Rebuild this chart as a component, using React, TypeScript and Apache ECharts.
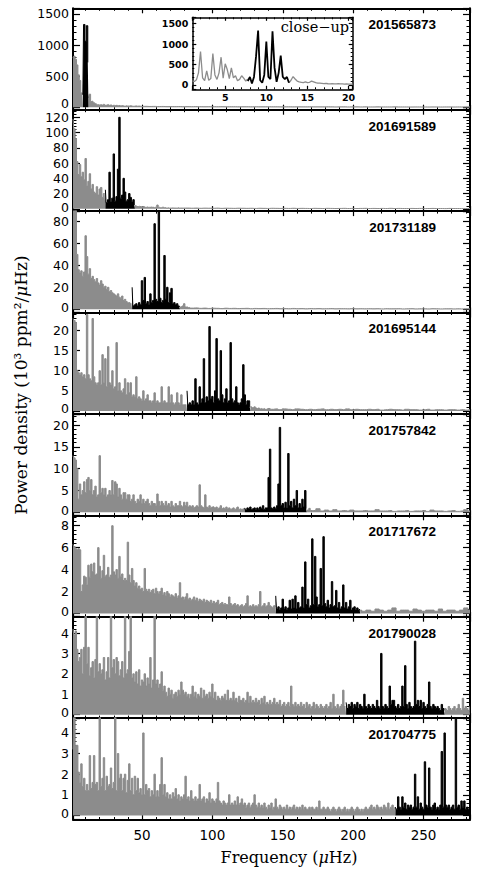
import React, { useEffect, useRef } from "react";
import * as echarts from "echarts";

// ---------------- data ----------------
const STAR_IDS = ["201565873", "201691589", "201731189", "201695144", "201757842", "201717672", "201790028", "201704775"];
const FREQ_MIN = 1;
const FREQ_MAX = 283;
const BIN = 1; // µHz, main spectra bin width
const TAIL_BIN = 3; // µHz, bin width of the flat high-frequency tails
const X_TITLE = "Frequency (";
const Y_TITLE = "Power density (10³ ppm²/";
const INSET_LABEL = "close−up";

// Panel 1 — 201565873
const p1GrayLo = [790, 820, 770, 680, 520, 430, 230, 200];
const p1BlackStart = 8;
const p1Black = [200, 1330, 1060, 1310, 720];
const p1GrayHi = [150, 210, 90, 100, 70, 55, 45, 40, 35,
  40, 35, 45, 30, 35, 40, 30, 35, 25, 30,
  25, 30, 22, 28, 20, 25, 22, 18, 25, 20,
  18, 22, 20, 15, 18, 20, 15, 18, 15, 12];
const p1TailStart = 52;
const p1Tail = [14, 12, 13, 11, 12, 10, 11, 10, 11, 9,
  10, 9, 10, 9, 8, 9, 9, 8, 9, 8,
  8, 8, 7, 8, 8, 7, 8, 7, 7, 8,
  7, 7, 6, 7, 7, 6, 7, 6, 6, 7,
  6, 6, 6, 7, 6, 5, 6, 6, 5, 6,
  6, 5, 6, 5, 5, 6, 5, 5, 5, 6,
  5, 5, 5, 4, 5, 5, 5, 4, 5, 5,
  4, 5, 5, 4, 5, 4, 5, 4];

// Panel 2 — 201691589
const p2GrayLo = [118, 105, 92, 62, 45, 58, 42, 48, 38, 66,
  30, 36, 46, 26, 32, 22, 20, 29, 18, 26,
  28, 15, 20, 20];
const p2BlackStart = 24;
const p2Black = [25, 8, 12, 48, 9, 14, 72, 10, 16, 52, 120, 14, 18, 40, 22, 10, 12, 20, 15, 9, 12, 5];
const p2GrayHi = [4, 4, 3, 3.5, 3, 2.5,
  3, 2.5, 2, 2.5, 2, 2, 2.5, 2, 1.5, 2,
  5, 2, 1.5, 1.5, 2, 1.5, 1.5, 1, 1.5, 1,
  1, 1.5, 1, 1, 1, 1.5, 1, 1, 1, 1];
const p2TailStart = 82;
const p2Tail = [1, 0.8, 1, 0.7, 0.9, 0.8, 0.7, 0.9, 0.6, 0.8,
  0.7, 0.6, 0.8, 0.7, 0.6, 0.7, 0.5, 0.7, 0.6, 0.5,
  0.7, 0.6, 0.5, 0.6, 0.5, 0.7, 0.5, 0.6, 0.5, 0.4,
  0.6, 0.5, 0.4, 0.6, 0.5, 0.4, 0.5, 0.6, 0.4, 0.5,
  0.4, 0.5, 0.6, 0.4, 0.5, 0.4, 0.5, 0.4, 0.6, 0.4,
  0.5, 0.4, 0.4, 0.5, 0.4, 0.5, 0.3, 0.4, 0.5, 0.4,
  0.4, 0.3, 0.5, 0.4, 0.4, 0.3, 0.4, 0.4];

// Panel 3 — 201731189
const p3GrayLo = [95, 92, 90, 50, 36, 33, 35, 30, 34, 67,
  48, 32, 37, 28, 30, 27, 25, 28, 24, 22,
  26, 23, 20, 21, 18, 20, 16, 17, 15, 14,
  13, 12, 14, 11, 10, 12, 8, 9, 7, 6,
  6, 5, 5];
const p3BlackStart = 43;
const p3Black = [20, 3, 4, 5, 3, 6, 4, 26, 8, 29,
  5, 7, 4, 14, 6, 8, 78, 9, 7, 90,
  10, 6, 8, 49, 9, 20, 6, 15, 19, 5,
  6, 4, 5, 3, 2];
const p3GrayHi = [2, 2, 3, 5, 2, 2, 1.5, 1.5, 1];
const p3TailStart = 88;
const p3Tail = [1.2, 0.8, 1, 0.7, 0.9, 0.8, 0.6, 0.9, 0.7, 0.8,
  0.6, 0.7, 0.8, 0.5, 0.7, 0.6, 0.7, 0.5, 0.6, 0.7,
  0.5, 0.6, 0.5, 0.7, 0.5, 0.6, 0.4, 0.6, 0.5, 0.6,
  0.4, 0.5, 0.6, 0.4, 0.5, 0.5, 0.4, 0.6, 0.4, 0.5,
  0.4, 0.5, 0.4, 0.5, 0.3, 0.5, 0.4, 0.4, 0.5, 0.3,
  0.4, 0.5, 0.3, 0.4, 0.4, 0.3, 0.5, 0.4, 0.3, 0.4,
  0.4, 0.3, 0.4, 0.3, 0.4, 0.3];

// Panel 4 — 201695144
const p4GrayLo = [23, 22.5, 22, 10, 9.5, 9, 9.5, 8.5, 9, 8,
  24, 9, 8, 7.5, 23, 8.5, 7, 6.5, 7, 10,
  6.5, 14, 7, 13, 6, 16, 7, 6.5, 10, 5.5,
  6, 17, 5, 7, 5, 4.5, 5.5, 8, 4, 7,
  4.5, 7, 3.5, 4, 3.5, 8.5, 3, 3.5, 3, 2.5,
  5, 2.5, 3, 4, 2.5, 2.5, 2, 2.5, 4.5, 2,
  2.5, 2, 2, 6, 2, 2.5, 2, 2, 6, 2,
  4, 2, 1.5, 2, 4.5, 2, 1.5, 4, 1.5, 1.5,
  1.5, 1.5];
const p4BlackStart = 82;
const p4Black = [5, 1.5, 2, 1.5, 2.5, 1.5, 8, 2, 1.5, 6,
  2, 3, 13, 2, 3.5, 2.5, 21, 3, 3.6, 2,
  5, 18, 3, 2.5, 15, 4, 2, 3, 5.5, 2,
  2.5, 17, 3, 2, 2.5, 6, 2, 1.5, 2, 3,
  11.5, 4, 1.5, 2.5, 2.5, 1];
const p4GrayHi = [1, 1, 0.8, 1, 0.7, 0.6, 0.7, 0.5, 0.6, 0.5, 0.6, 0.4, 0.5, 0.6];
const p4TailStart = 142;
const p4Tail = [0.4, 0.5, 0.3, 0.5, 0.4, 0.3, 0.5, 0.4, 0.3, 0.4,
  0.3, 0.4, 0.5, 0.3, 0.4, 0.3, 0.4, 0.3, 0.5, 0.3,
  0.4, 0.3, 0.3, 0.4, 0.3, 0.4, 0.2, 0.3, 0.4, 0.3,
  0.3, 0.2, 0.4, 0.3, 0.3, 0.2, 0.3, 0.4, 0.2, 0.3,
  0.3, 0.2, 0.3, 0.3, 0.2, 0.3, 0.2, 0.3];

// Panel 5 — 201757842
const p5GrayLo = [13, 12.5, 12, 10, 3, 6.5, 4, 5, 7, 4.5,
  7.5, 8, 5, 7.5, 4, 5, 6, 3.5, 4, 13,
  4.5, 5.5, 4, 5.5, 3.5, 4, 5, 4, 7.3, 4,
  7, 6.5, 3.5, 5.5, 4, 3, 4.5, 4.5, 3, 4,
  4, 2.5, 3, 4, 2.5, 2, 3, 2.5, 4, 2,
  3, 2, 2.5, 3, 2, 1.5, 2.5, 2, 2, 1.5,
  4.2, 2.5, 1.5, 2.5, 2, 1.5, 2.5, 1.5, 2, 1.2,
  2.5, 1.5, 1.2, 2, 1.5, 1.5, 2.5, 1.5, 1.2, 2.3,
  1.5, 2.3, 1.2, 1.5, 1.2, 1.5, 1, 1.2, 1.5, 1.2,
  6.3, 1.5, 1.2, 1, 4, 1.2, 1, 1.5, 1, 1.2,
  1.3, 1, 1.2, 0.8, 1, 1.5, 0.8, 1, 0.8, 1.2,
  0.8, 1, 0.7, 0.8, 1, 0.7, 0.8, 1.2, 0.7, 0.8,
  0.7, 0.8, 0.8];
const p5BlackStart = 123;
const p5Black = [1, 0.5, 1, 0.8, 1.2, 0.6, 0.8, 1, 0.5, 1,
  0.7, 1.2, 0.8, 1.5, 0.6, 1, 1, 8, 14.5, 1,
  0.8, 1.2, 0.8, 1.5, 6.5, 19.5, 1.5, 2, 1, 2.3,
  1, 13.5, 1.5, 2.5, 1, 3, 1.5, 5, 1, 2,
  1, 3, 1.2, 5, 0.8];
const p5GrayHi = [0.6, 0.5, 0.9, 0.4];
const p5TailStart = 172;
const p5Tail = [0.4, 0.8, 0.3, 0.5, 0.3, 0.6, 0.3, 0.4, 0.3, 0.5,
  0.3, 0.3, 0.4, 0.3, 0.3, 0.6, 0.3, 0.3, 0.4, 0.2,
  0.3, 0.3, 0.4, 0.2, 0.3, 0.3, 0.4, 0.2, 0.5, 0.3,
  0.3, 0.2, 0.3, 0.4, 0.2, 0.3, 0.6, 0.3];

// Panel 6 — 201717672
const p6GrayLo = [6.3, 6.1, 5.9, 5.8, 5.9, 5.8, 2, 2.6, 3.4, 3.3,
  2.6, 4.4, 3.3, 4.5, 3.8, 4.6, 3.5, 3.6, 6.0, 4.3,
  3.2, 3.9, 5.3, 3.4, 3.5, 4.2, 3.3, 3.5, 8.0, 3.8,
  3.5, 4.0, 3.2, 5.2, 3.4, 3.6, 3.0, 3.2, 3.0, 6.5,
  3.5, 2.8, 4.1, 3.0, 2.5, 2.8, 2.3, 2.5, 2.2, 2.3,
  2.0, 4.1, 2.2, 2.0, 2.2, 1.9, 2.1, 2.2, 1.8, 2.3,
  2.0, 1.8, 2.0, 2.3, 1.7, 1.9, 1.6, 2.0, 1.8, 1.5,
  1.7, 1.6, 1.5, 1.8, 1.4, 1.6, 2.8, 1.4, 1.5, 1.3,
  1.5, 1.8, 1.3, 1.4, 1.2, 1.3, 1.5, 1.2, 1.4, 1.1,
  1.3, 1.2, 1.1, 1.3, 1.0, 1.2, 1.1, 1.0, 1.2, 0.9,
  1.1, 0.9, 1.0, 1.2, 0.8, 0.9, 1.0, 0.8, 0.9, 0.8,
  0.8, 1.5, 0.9, 0.7, 0.8, 0.9, 0.7, 0.8, 0.6, 0.7,
  0.8, 0.6, 0.7, 0.9, 1.6, 0.6, 0.7, 0.6, 0.8, 0.6,
  0.7, 0.6, 0.8, 2.0, 0.6, 0.7, 0.9, 0.6, 0.7, 1.0,
  0.7, 0.6, 0.5, 0.7, 0.6];
const p6BlackStart = 145;
const p6Black = [1.6, 0.4, 0.6, 0.3, 0.5, 1.3, 0.4, 0.6, 0.3, 0.5,
  1.2, 0.4, 1.3, 0.5, 1.6, 0.4, 1.0, 0.5, 0.6, 2.4,
  0.5, 4.7, 0.8, 1.3, 0.5, 0.7, 6.8, 0.8, 5.2, 1.5,
  0.6, 0.8, 4.1, 0.7, 7.0, 0.9, 0.6, 1.2, 0.5, 0.8,
  2.9, 0.6, 0.7, 2.1, 0.5, 1.0, 0.4, 0.6, 2.6, 0.5,
  1.0, 0.4, 0.6, 1.2, 0.3, 0.5, 0.6, 0.3, 0.5, 0.3,
  0.4];
const p6GrayHi = [0.3, 0.3, 0.2];
const p6TailStart = 211;
const p6Tail = [0.3, 0.2, 0.4, 0.3, 0.2, 0.3, 0.5, 0.2, 0.3, 0.3,
  0.2, 0.4, 0.3, 0.2, 0.3, 0.3, 0.2, 0.4, 0.2, 0.3,
  0.3, 0.2, 0.3, 0.5, 0.3];

// Panel 7 — 201790028
const p7GrayLo = [4.2, 3.9, 4.1, 3.2, 2.6, 2.8, 3.2, 2.0, 3.3, 5.5,
  2.5, 3.3, 1.9, 2.3, 2.6, 1.8, 2.7, 5.5, 2.1, 2.5,
  2.0, 2.2, 2.8, 1.7, 2.1, 2.8, 1.8, 5.5, 2.3, 2.7,
  2.0, 2.8, 2.6, 1.9, 2.2, 2.6, 1.8, 5.5, 2.0, 2.2,
  3.1, 5.5, 1.8, 2.0, 1.6, 2.1, 1.5, 2.2, 1.4, 1.7,
  1.6, 2.0, 1.4, 1.8, 1.5, 2.8, 1.3, 1.7, 5.5, 1.5,
  1.7, 1.3, 1.5, 2.1, 1.2, 1.4, 1.1, 0.9, 1.3, 1.0,
  1.2, 0.8, 1.0, 1.1, 0.9, 1.2, 1.0, 1.6, 1.2, 1.0,
  1.1, 0.9, 1.0, 0.8, 1.0, 1.4, 0.9, 1.1, 0.8, 1.0,
  0.9, 1.3, 0.8, 1.2, 0.9, 1.0, 0.8, 1.1, 0.9, 1.5,
  0.8, 1.1, 0.7, 0.9, 0.8, 0.7, 0.9, 0.8, 1.0, 0.7,
  1.2, 0.7, 0.8, 0.7, 1.1, 0.7, 0.8, 0.6, 0.9, 0.7,
  0.7, 0.8, 0.6, 0.7, 1.1, 0.6, 0.9, 0.6, 0.7, 0.6,
  0.8, 0.6, 0.7, 0.5, 0.8, 0.6, 0.9, 0.5, 0.6, 0.5,
  0.7, 0.5, 0.6, 0.8, 0.5, 0.6, 0.5, 0.7, 0.4, 0.5,
  0.6, 0.4, 0.5, 0.6, 0.4, 1.4, 0.5, 0.4, 0.6, 0.4,
  0.5, 0.4, 0.6, 0.4, 0.5, 0.3, 0.6, 0.4, 0.5, 0.3,
  0.4, 0.6, 0.3, 0.5, 0.4, 0.3, 0.5, 0.4, 0.3, 0.4,
  0.5, 0.3, 0.4, 0.6, 0.3, 1.0, 0.4, 0.3, 0.5, 0.3,
  0.4, 0.5, 1.2, 0.4, 0.4];
const p7BlackStart = 195;
const p7Black = [0.6, 0.3, 0.5, 0.4, 0.6, 0.3, 0.5, 0.4, 0.6, 0.3,
  0.5, 0.4, 0.3, 1.0, 0.4, 0.3, 0.5, 0.4, 0.3, 0.5,
  0.4, 0.3, 0.7, 0.4, 0.3, 3.0, 0.4, 0.3, 0.5, 0.4,
  0.3, 1.4, 0.5, 0.7, 0.7, 0.4, 0.3, 0.5, 0.3, 0.4,
  1.4, 0.4, 2.4, 0.5, 0.3, 0.6, 0.4, 0.3, 0.4, 3.6,
  0.5, 0.7, 0.4, 0.7, 0.3, 0.6, 0.4, 0.3, 0.5, 1.6,
  0.4, 0.3, 0.5, 0.4, 0.3, 0.4, 0.3, 0.2, 0.5, 0.3,
  0.2];
const p7GrayHi = [0.3, 0.3, 0.2, 0.4, 0.3, 0.2,
  0.3, 0.4, 0.2, 0.3, 0.5, 0.3, 0.2, 0.8, 0.3, 0.4,
  0.3, 0.2, 0.4];
const p7TailStart = 286;
const p7Tail: number[] = [];

// Panel 8 — 201704775
const p8GrayLo = [3.2, 5.5, 3.4, 3.4, 2.1, 1.6, 2.5, 1.4, 1.8, 1.2,
  1.5, 1.2, 2.9, 1.3, 1.6, 2.9, 1.5, 1.6, 1.2, 5.5,
  1.4, 1.8, 2.8, 1.2, 1.9, 1.4, 1.5, 2.3, 1.3, 1.6,
  5.5, 1.2, 3.0, 1.8, 2.0, 1.2, 1.8, 2.0, 1.1, 1.7,
  2.5, 1.2, 1.8, 1.0, 1.9, 1.2, 1.8, 1.1, 1.3, 1.0,
  4.0, 1.0, 1.5, 1.2, 1.3, 0.9, 1.2, 1.0, 2.0, 0.9,
  1.2, 0.9, 1.5, 2.8, 1.0, 1.5, 0.9, 1.1, 0.8, 1.0,
  0.8, 1.1, 0.9, 1.3, 0.8, 1.0, 0.7, 0.9, 0.8, 1.0,
  1.9, 0.8, 0.9, 0.7, 1.2, 0.8, 0.7, 0.9, 0.7, 0.8,
  1.5, 0.7, 0.8, 0.9, 0.6, 0.8, 0.7, 1.1, 0.6, 0.8,
  0.7, 0.6, 0.8, 1.6, 0.7, 0.6, 0.5, 0.7, 0.6, 0.5,
  0.6, 1.0, 0.5, 0.6, 0.5, 0.7, 0.5, 0.9, 0.5, 0.6,
  0.8, 0.5, 0.6, 0.4, 0.5, 0.6, 0.4, 0.5, 0.6, 1.0,
  0.5, 0.4, 0.6, 0.4, 0.5, 0.4, 0.6, 0.4, 0.3, 0.5,
  0.4, 0.6, 0.3, 0.4, 0.8, 0.4, 0.3, 0.5, 0.4, 0.3,
  0.4, 0.3, 0.5, 0.3, 0.4, 0.3, 0.4, 0.5, 0.3, 0.4,
  0.3, 0.4, 0.3, 0.5, 0.3, 0.4, 0.3, 0.3, 0.4, 0.3,
  0.4, 0.3, 0.3, 0.4, 0.3, 0.7, 0.3, 0.3, 0.4, 0.3,
  0.3, 0.4, 0.3, 0.2, 0.3, 0.4, 0.3, 0.2, 0.3, 0.4,
  0.3, 0.2, 0.3, 0.4, 0.2, 0.3, 0.2, 0.3, 0.4, 0.3,
  0.2, 0.3, 0.4, 0.3, 0.2, 0.3, 0.2, 0.3, 0.4, 0.3,
  0.3, 0.4, 0.5, 0.3, 0.4, 0.3, 0.5, 0.4, 0.3, 0.4,
  0.3, 0.5, 0.4, 0.3, 0.6, 0.3, 0.4, 0.5, 0.3, 0.4];
const p8BlackStart = 230;
const p8Black = [0.4, 0.3, 0.9, 0.4, 0.3, 0.9, 0.4, 0.6, 0.3, 0.5,
  0.4, 0.5, 0.3, 0.4, 2.0, 0.4, 0.9, 0.3, 0.6, 0.4,
  0.3, 2.6, 0.5, 0.4, 2.3, 0.4, 0.3, 0.5, 0.6, 0.3,
  0.4, 0.3, 0.5, 3.1, 0.4, 4.0, 0.5, 0.4, 0.5, 0.3,
  0.4, 0.5, 0.3, 5.5, 0.4, 0.5, 0.3, 0.7, 0.4, 0.7,
  0.3, 0.4, 0.3, 0.4];
const p8GrayHi: number[] = [];
const p8TailStart = 286;
const p8Tail: number[] = [];

// Close-up inset of panel 1 (0.25 µHz bins)
const INSET_BIN = 0.25;
const insetGrayLo = [100, 90, 130, 300, 820, 180, 110, 350, 120, 160,
  770, 250, 140, 300, 680, 170, 520, 380, 160, 420,
  180, 230, 110, 140, 230, 170, 100, 150];
const insetBlackStart = 7.75;
const insetBlack = [100, 200, 40, 200, 700, 1330, 120, 60, 250, 1060,
  200, 150, 1310, 420, 80, 300, 720, 200, 150, 200, 60];
const insetGrayHi = [60, 120, 210, 150, 100, 80, 70, 60, 80, 60, 70,
  100, 80, 60, 50, 50, 45, 40, 45, 35, 30,
  35, 30, 30, 35, 30, 30, 25, 30, 25, 25, 25];

// ---------------- layout / styling ----------------
const GRID_LEFT = 73;
const GRID_W = 397;
const GRID_TOP = 8.3;
const GRID_H = 101.4;
const GRAY = "#8c8c8c";
const BLACK = "#000000";
const SANS = '"DejaVu Sans", sans-serif';
const SERIF = '"DejaVu Serif", serif';

// y range, split count and how far (px) the "0" label sits above its tick
const Y_AXES = [
  { min: -40, max: 1590, split: 3, lift: 3.8 },
  { min: -3, max: 130, split: 7, lift: 1.3 },
  { min: -3, max: 89.5, split: 4, lift: 2 },
  { min: -0.75, max: 24.5, split: 5, lift: 2 },
  { min: -0.7, max: 22.6, split: 5, lift: 2 },
  { min: -0.3, max: 8.95, split: 4, lift: 2 },
  { min: -0.17, max: 4.8, split: 5, lift: 2 },
  { min: -0.2, max: 4.72, split: 5, lift: 2 },
];

const PANELS = [
  { lo: p1GrayLo, bs: p1BlackStart, bk: p1Black, hi: p1GrayHi, ts: p1TailStart, tail: p1Tail },
  { lo: p2GrayLo, bs: p2BlackStart, bk: p2Black, hi: p2GrayHi, ts: p2TailStart, tail: p2Tail },
  { lo: p3GrayLo, bs: p3BlackStart, bk: p3Black, hi: p3GrayHi, ts: p3TailStart, tail: p3Tail },
  { lo: p4GrayLo, bs: p4BlackStart, bk: p4Black, hi: p4GrayHi, ts: p4TailStart, tail: p4Tail },
  { lo: p5GrayLo, bs: p5BlackStart, bk: p5Black, hi: p5GrayHi, ts: p5TailStart, tail: p5Tail },
  { lo: p6GrayLo, bs: p6BlackStart, bk: p6Black, hi: p6GrayHi, ts: p6TailStart, tail: p6Tail },
  { lo: p7GrayLo, bs: p7BlackStart, bk: p7Black, hi: p7GrayHi, ts: p7TailStart, tail: p7Tail },
  { lo: p8GrayLo, bs: p8BlackStart, bk: p8Black, hi: p8GrayHi, ts: p8TailStart, tail: p8Tail },
];

const pairs = (start: number, step: number, vals: number[]) => vals.map((v, i) => [start + i * step, v]);

function axisDef(gridIndex: number, position: string, showLabel: boolean, min: number, max: number, split: number, opt: any, lift = 0) {
  const fontWeight = opt.fontWeight || "normal";
  return {
    type: "value",
    gridIndex,
    position,
    min,
    max,
    splitNumber: split,
    axisLine: { show: true, onZero: false, lineStyle: { color: BLACK, width: opt.lineW } },
    axisTick: { show: true, inside: true, length: opt.tickLen, lineStyle: { color: BLACK, width: 1.2 } },
    minorTick: { show: true, splitNumber: 5, length: opt.minorLen, lineStyle: { color: BLACK, width: 1 } },
    splitLine: { show: false },
    minorSplitLine: { show: false },
    axisLabel: {
      show: showLabel,
      showMinLabel: false,
      showMaxLabel: false,
      fontFamily: SANS,
      fontSize: opt.fontSize,
      fontWeight,
      color: BLACK,
      margin: opt.margin,
      formatter: (v: number) => (lift && v === 0 ? "{z|0}" : String(v)),
      rich: {
        z: { fontFamily: SANS, fontSize: opt.fontSize, fontWeight, color: BLACK, padding: [0, 0, lift * 2, 0] },
      },
    },
  };
}

function stepSeries(data: number[][], axisIndex: number, color: string, z: number) {
  return {
    type: "line",
    xAxisIndex: axisIndex,
    yAxisIndex: axisIndex,
    data,
    step: "middle",
    symbol: "none",
    showSymbol: false,
    silent: true,
    clip: true,
    z,
    lineStyle: { color, width: 1 },
    areaStyle: { color, opacity: 1 },
  };
}

function lineSeries(data: number[][], axisIndex: number, color: string, width: number, z: number) {
  return {
    type: "line",
    xAxisIndex: axisIndex,
    yAxisIndex: axisIndex,
    data,
    symbol: "none",
    showSymbol: false,
    silent: true,
    clip: true,
    z,
    lineStyle: { color, width },
  };
}

function buildOption() {
  const grid: any[] = [];
  const xAxis: any[] = [];
  const yAxis: any[] = [];
  const series: any[] = [];
  const graphic: any[] = [];

  const mainX = { lineW: 2, tickLen: 5, minorLen: 2.5, fontSize: 13.5, margin: 8 };
  const mainY = { lineW: 2, tickLen: 7, minorLen: 3.5, fontSize: 12.5, margin: 4 };

  PANELS.forEach((p, i) => {
    const top = GRID_TOP + i * GRID_H;
    grid.push({ left: GRID_LEFT, top, width: GRID_W, height: GRID_H, containLabel: false, outerBoundsMode: "none" });
    const last = i === PANELS.length - 1;
    const ya = Y_AXES[i];
    xAxis.push(axisDef(i, "bottom", last, FREQ_MIN, FREQ_MAX, 5, mainX));
    xAxis.push(axisDef(i, "top", false, FREQ_MIN, FREQ_MAX, 5, mainX));
    yAxis.push(axisDef(i, "left", true, ya.min, ya.max, ya.split, mainY, ya.lift));
    yAxis.push(axisDef(i, "right", false, ya.min, ya.max, ya.split, mainY));

    const blackEnd = p.bs + (p.bk.length - 1) * BIN;
    const lo = pairs(FREQ_MIN, BIN, p.lo);
    const hi = pairs(blackEnd, BIN, p.hi).concat(pairs(p.ts, TAIL_BIN, p.tail));
    const bk = pairs(p.bs, BIN, p.bk);
    series.push(stepSeries(lo, i * 2, GRAY, 2));
    if (hi.length) series.push(stepSeries(hi, i * 2, GRAY, 2));
    series.push(stepSeries(bk, i * 2, BLACK, 3));

    graphic.push({
      type: "text",
      x: 436,
      y: top + 16.3,
      z: 100,
      style: {
        text: STAR_IDS[i],
        fill: BLACK,
        font: 'bold 13.5px "Liberation Sans", Arial, sans-serif',
        textAlign: "right",
        textVerticalAlign: "middle",
      },
    });
  });

  // inset
  const insetIdx = PANELS.length;
  grid.push({ left: 192.3, top: 17.3, width: 160.4, height: 72, containLabel: false, outerBoundsMode: "none" });
  const insX = { lineW: 1.5, tickLen: 3.5, minorLen: 2, fontSize: 9.5, fontWeight: "bold", margin: 3 };
  const insY = { lineW: 1.5, tickLen: 4, minorLen: 2, fontSize: 9.5, fontWeight: "bold", margin: 4 };
  xAxis.push(axisDef(insetIdx, "bottom", true, 1, 20.5, 4, insX));
  xAxis.push(axisDef(insetIdx, "top", false, 1, 20.5, 4, insX));
  yAxis.push(axisDef(insetIdx, "left", true, -100, 1650, 3, insY, 1));
  yAxis.push(axisDef(insetIdx, "right", false, -100, 1650, 3, insY));
  const insetBlackEnd = insetBlackStart + (insetBlack.length - 1) * INSET_BIN;
  series.push(lineSeries(pairs(1, INSET_BIN, insetGrayLo), insetIdx * 2, GRAY, 1.3, 5));
  series.push(lineSeries(pairs(insetBlackEnd, INSET_BIN, insetGrayHi), insetIdx * 2, GRAY, 1.3, 5));
  series.push(lineSeries(pairs(insetBlackStart, INSET_BIN, insetBlack), insetIdx * 2, BLACK, 1.8, 6));

  graphic.push({
    type: "text",
    x: 349,
    y: 27,
    z: 100,
    style: { text: INSET_LABEL, fill: BLACK, font: `14.5px ${SERIF}`, textAlign: "right", textVerticalAlign: "middle" },
  });

  // axis titles
  graphic.push({
    type: "text",
    x: 289,
    y: 857,
    z: 100,
    style: {
      text: `{r|${X_TITLE}}{i|μ}{r|Hz)}`,
      rich: {
        r: { fontFamily: "DejaVu Serif", fontSize: 16, fill: BLACK },
        i: { fontFamily: "DejaVu Serif", fontSize: 16, fontStyle: "italic", fill: BLACK },
      },
      textAlign: "center",
      textVerticalAlign: "middle",
    },
  });
  graphic.push({
    type: "text",
    x: 21,
    y: 385,
    rotation: Math.PI / 2,
    z: 100,
    style: {
      text: `{r|${Y_TITLE}}{i|μ}{r|Hz)}`,
      rich: {
        r: { fontFamily: "DejaVu Serif", fontSize: 17, fill: BLACK },
        i: { fontFamily: "DejaVu Serif", fontSize: 17, fontStyle: "italic", fill: BLACK },
      },
      textAlign: "center",
      textVerticalAlign: "middle",
    },
  });

  return {
    animation: false,
    backgroundColor: "#ffffff",
    grid,
    xAxis,
    yAxis,
    series,
    graphic,
  };
}

export default function App() {
  const ref = useRef<HTMLDivElement>(null);
  useEffect(() => {
    if (!ref.current) return;
    const chart = echarts.init(ref.current, undefined, { renderer: "svg" });
    chart.setOption(buildOption() as any);
    return () => chart.dispose();
  }, []);
  return <div ref={ref} style={{ position: "absolute", left: 0, top: 0, width: 480, height: 872 }} />;
}
